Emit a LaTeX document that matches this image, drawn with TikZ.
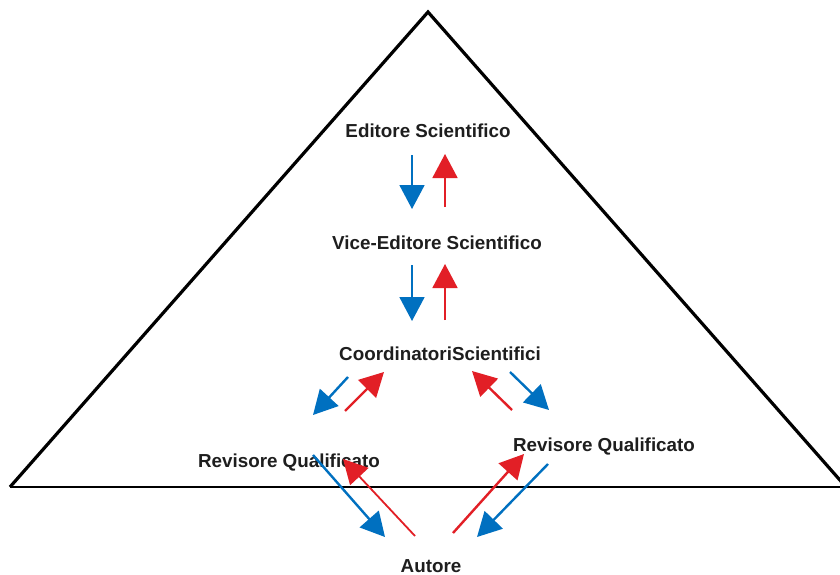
\documentclass[tikz,border=0pt]{standalone}
\usepackage{fontspec}
\setmainfont{Liberation Sans}
\usetikzlibrary{arrows.meta}
\definecolor{ablue}{HTML}{0070C0}
\definecolor{ared}{HTML}{E21F26}
\definecolor{txt}{HTML}{1E1E1E}
\tikzset{
  lbl/.style={font=\fontsize{18.8}{21}\selectfont\bfseries, text=txt, inner sep=0pt},
  barrow/.style={draw=ablue, line width=2.4pt, -{Triangle[length=24pt,width=25pt]}},
  rarrow/.style={draw=ared, line width=2.4pt, -{Triangle[length=24pt,width=25pt]}},
  rarrowthin/.style={draw=ared, line width=1.8pt, -{Triangle[length=24pt,width=25pt]}},
  bluethin/.style={draw=ablue, line width=1.8pt, -{Triangle[length=24pt,width=25pt]}},
}
\begin{document}
\begin{tikzpicture}[x=1pt,y=-1pt]
\useasboundingbox (0,0) rectangle (840,575);
\fill[white] (0,0) rectangle (840,575);
% pyramid
\coordinate (apex) at (428,12);
\coordinate (bl) at (10,487);
\coordinate (br) at (846,487);
\coordinate (be) at (860,487);
\draw[line width=3.2pt, line join=miter] (bl) -- (apex) -- (br);
\draw[line width=1.6pt] (bl) -- (be);
% labels
\node[lbl] (ed) at (428,131) {Editore Scientifico};
\node[lbl] (ved) at (437,243) {Vice-Editore Scientifico};
\node[lbl] (co) at (440,354) {CoordinatoriScientifici};
\node[lbl] (rl) at (289,463) {Revisore Qualificato};
\node[lbl] (rr) at (604,447) {Revisore Qualificato};
\node[lbl] (au) at (431,566) {Autore};
% arrow endpoints
\coordinate (a1s) at (412,155); \coordinate (a1e) at (412,209);
\coordinate (a2s) at (445,207); \coordinate (a2e) at (445,154);
\coordinate (a3s) at (412,265); \coordinate (a3e) at (412,321);
\coordinate (a4s) at (445,320); \coordinate (a4e) at (445,264);
\coordinate (a5s) at (348,377); \coordinate (a5e) at (313,415);
\coordinate (a6s) at (345,411); \coordinate (a6e) at (384,372);
\coordinate (a7s) at (512,410); \coordinate (a7e) at (472,371);
\coordinate (a8s) at (510,372); \coordinate (a8e) at (549,410);
\coordinate (a9s) at (313,455); \coordinate (a9e) at (385,537);
\coordinate (a10s) at (415,536); \coordinate (a10e) at (343,459);
\coordinate (a11s) at (453,533); \coordinate (a11e) at (524,454);
\coordinate (a12s) at (548,464); \coordinate (a12e) at (477,537);
\draw[bluethin] (a1s) -- (a1e);
\draw[rarrowthin] (a2s) -- (a2e);
\draw[bluethin] (a3s) -- (a3e);
\draw[rarrowthin] (a4s) -- (a4e);
\draw[barrow] (a5s) -- (a5e);
\draw[rarrow] (a6s) -- (a6e);
\draw[rarrow] (a7s) -- (a7e);
\draw[barrow] (a8s) -- (a8e);
\draw[barrow] (a9s) -- (a9e);
\draw[rarrowthin] (a10s) -- (a10e);
\draw[rarrow] (a11s) -- (a11e);
\draw[barrow] (a12s) -- (a12e);
\end{tikzpicture}
\end{document}
